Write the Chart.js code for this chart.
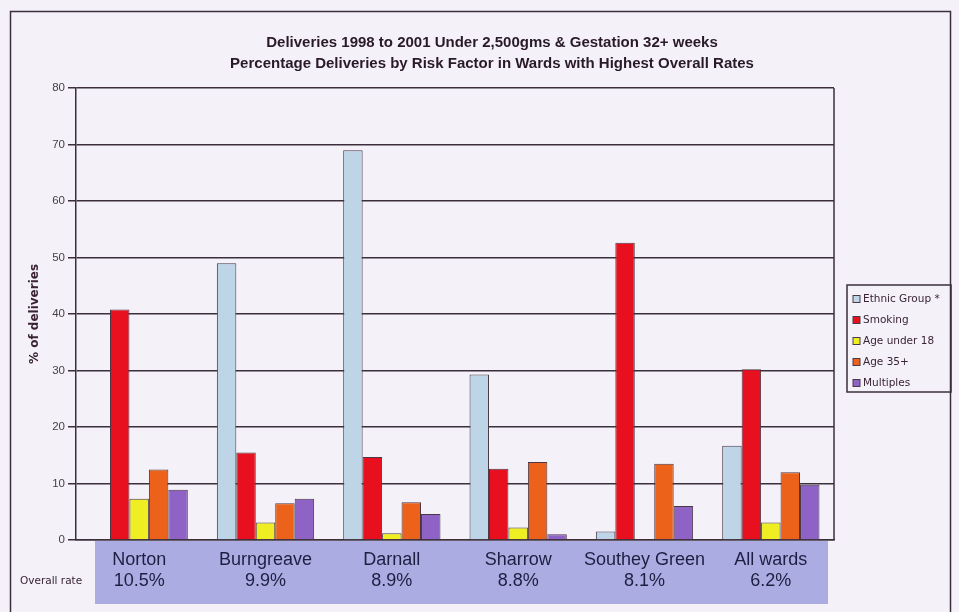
<!DOCTYPE html>
<html>
<head>
<meta charset="utf-8">
<script src="https://cdn.jsdelivr.net/npm/chart.js@4.4.1/dist/chart.umd.min.js"></script>
<style>
  body { margin: 0; background: #f4f2f8; }
  canvas { display: block; }
</style>
</head>
<body>
<canvas id="myChart" width="959" height="612"></canvas>
<script>
// wards and their overall low birth weight rate
const wards = ['Norton', 'Burngreave', 'Darnall', 'Sharrow', 'Southey Green', 'All wards'];
const overallRate = ['10.5%', '9.9%', '8.9%', '8.8%', '8.1%', '6.2%'];

// % of deliveries per risk factor
const ethnicGroup = [0, 49, 69, 29.3, 1.5, 16.7];
const smoking = [40.8, 15.5, 14.7, 12.6, 52.6, 30.2];
const ageUnder18 = [7.3, 3.1, 1.2, 2.2, 0, 3.1];
const age35plus = [12.5, 6.5, 6.7, 13.8, 13.5, 12];
const multiples = [8.9, 7.3, 4.6, 1, 6, 9.8];

const yMax = 80;
const yStep = 10;

const titleLines = ['Deliveries 1998 to 2001 Under 2,500gms & Gestation 32+ weeks',
                    'Percentage Deliveries by Risk Factor in Wards with Highest Overall Rates'];

const ink = '#3b2f3c';
const labelInk = '#1e1e42';
const sans = '"Liberation Sans", Arial, sans-serif';
const wide = '"DejaVu Sans", Verdana, sans-serif';

// page background, outer frame, title and the blue label strip under the bars
const backdrop = {
    id: 'backdrop',
    beforeDraw(chart) {
        const c = chart.ctx, a = chart.chartArea;
        c.save();
        c.fillStyle = '#f4f2f8';
        c.fillRect(0, 0, chart.width, chart.height);
        c.strokeStyle = ink;
        c.lineWidth = 1.5;
        c.strokeRect(10.5, 11.5, 940, 640);
        c.fillStyle = '#abace1';
        c.fillRect(a.left + 19, a.bottom + 1, a.right - a.left - 25, 63);

        c.fillStyle = '#2a1a28';
        c.font = 'bold 15px ' + sans;
        c.textAlign = 'center';
        c.textBaseline = 'middle';
        titleLines.forEach((t, i) => c.fillText(t, 492, 43 + i * 21));
        c.restore();
    },
    afterDraw(chart) {
        const c = chart.ctx, a = chart.chartArea;
        c.save();
        // right edge of the plot box
        c.strokeStyle = ink;
        c.lineWidth = 1.5;
        c.beginPath();
        c.moveTo(a.right, a.top);
        c.lineTo(a.right, a.bottom);
        c.stroke();
        c.fillStyle = '#3a2434';
        c.font = '10.5px ' + wide;
        c.textBaseline = 'middle';
        c.fillText('Overall rate', 20, a.bottom + 41);
        c.restore();
    }
};

// boxed legend to the right of the plot
const sideLegend = {
    id: 'sideLegend',
    afterDraw(chart) {
        const c = chart.ctx;
        const x = 847, y = 285, w = 104, h = 107;
        c.save();
        c.strokeStyle = ink;
        c.lineWidth = 1.5;
        c.strokeRect(x, y, w, h);
        c.font = '10.5px ' + wide;
        c.textBaseline = 'middle';
        chart.data.datasets.forEach((ds, i) => {
            const cy = y + 14 + i * 21;
            c.fillStyle = ds.backgroundColor;
            c.fillRect(x + 6, cy - 3.5, 7, 7);
            c.lineWidth = 1;
            c.strokeStyle = '#4a3a48';
            c.strokeRect(x + 6, cy - 3.5, 7, 7);
            c.fillStyle = '#3a2434';
            c.fillText(ds.label, x + 16, cy);
        });
        c.restore();
    }
};

const barStyle = { borderColor: '#4a3846', borderWidth: 1 };

new Chart(document.getElementById('myChart'), {
    type: 'bar',
    data: {
        labels: wards.map((w, i) => [w, overallRate[i]]),
        datasets: [
            { label: 'Ethnic Group *', data: ethnicGroup, backgroundColor: '#bdd5e7', ...barStyle },
            { label: 'Smoking', data: smoking, backgroundColor: '#e8101e', ...barStyle },
            { label: 'Age under 18', data: ageUnder18, backgroundColor: '#eeee22', ...barStyle },
            { label: 'Age 35+', data: age35plus, backgroundColor: '#ec621a', ...barStyle },
            { label: 'Multiples', data: multiples, backgroundColor: '#8f63c6', ...barStyle }
        ]
    },
    options: {
        responsive: false,
        animation: false,
        layout: { padding: { left: 0, right: 125, top: 88, bottom: 0 } },
        datasets: { bar: { categoryPercentage: 0.77, barPercentage: 1.0 } },
        plugins: {
            legend: { display: false },
            tooltip: { enabled: false },
            title: { display: false }
        },
        scales: {
            x: {
                grid: { display: false },
                border: { display: true, color: ink, width: 1.5 },
                ticks: {
                    color: labelInk,
                    padding: 1,
                    maxRotation: 0,
                    autoSkip: false,
                    font: { family: sans, size: 18, lineHeight: 1.2 }
                },
                afterFit(scale) { scale.height = 72; }
            },
            y: {
                min: 0,
                max: yMax,
                ticks: {
                    stepSize: yStep,
                    color: '#4a4048',
                    padding: 3,
                    font: { family: sans, size: 11.5 }
                },
                grid: { color: ink, lineWidth: 1.5, tickLength: 8 },
                border: { display: true, color: ink, width: 1.5 },
                title: {
                    display: true,
                    text: '% of deliveries',
                    color: '#3a2434',
                    padding: { top: 28, bottom: 0 },
                    font: { family: wide, size: 12, weight: 'bold' }
                },
                afterFit(scale) { scale.width = 76; }
            }
        }
    },
    plugins: [backdrop, sideLegend]
});
</script>
</body>
</html>
